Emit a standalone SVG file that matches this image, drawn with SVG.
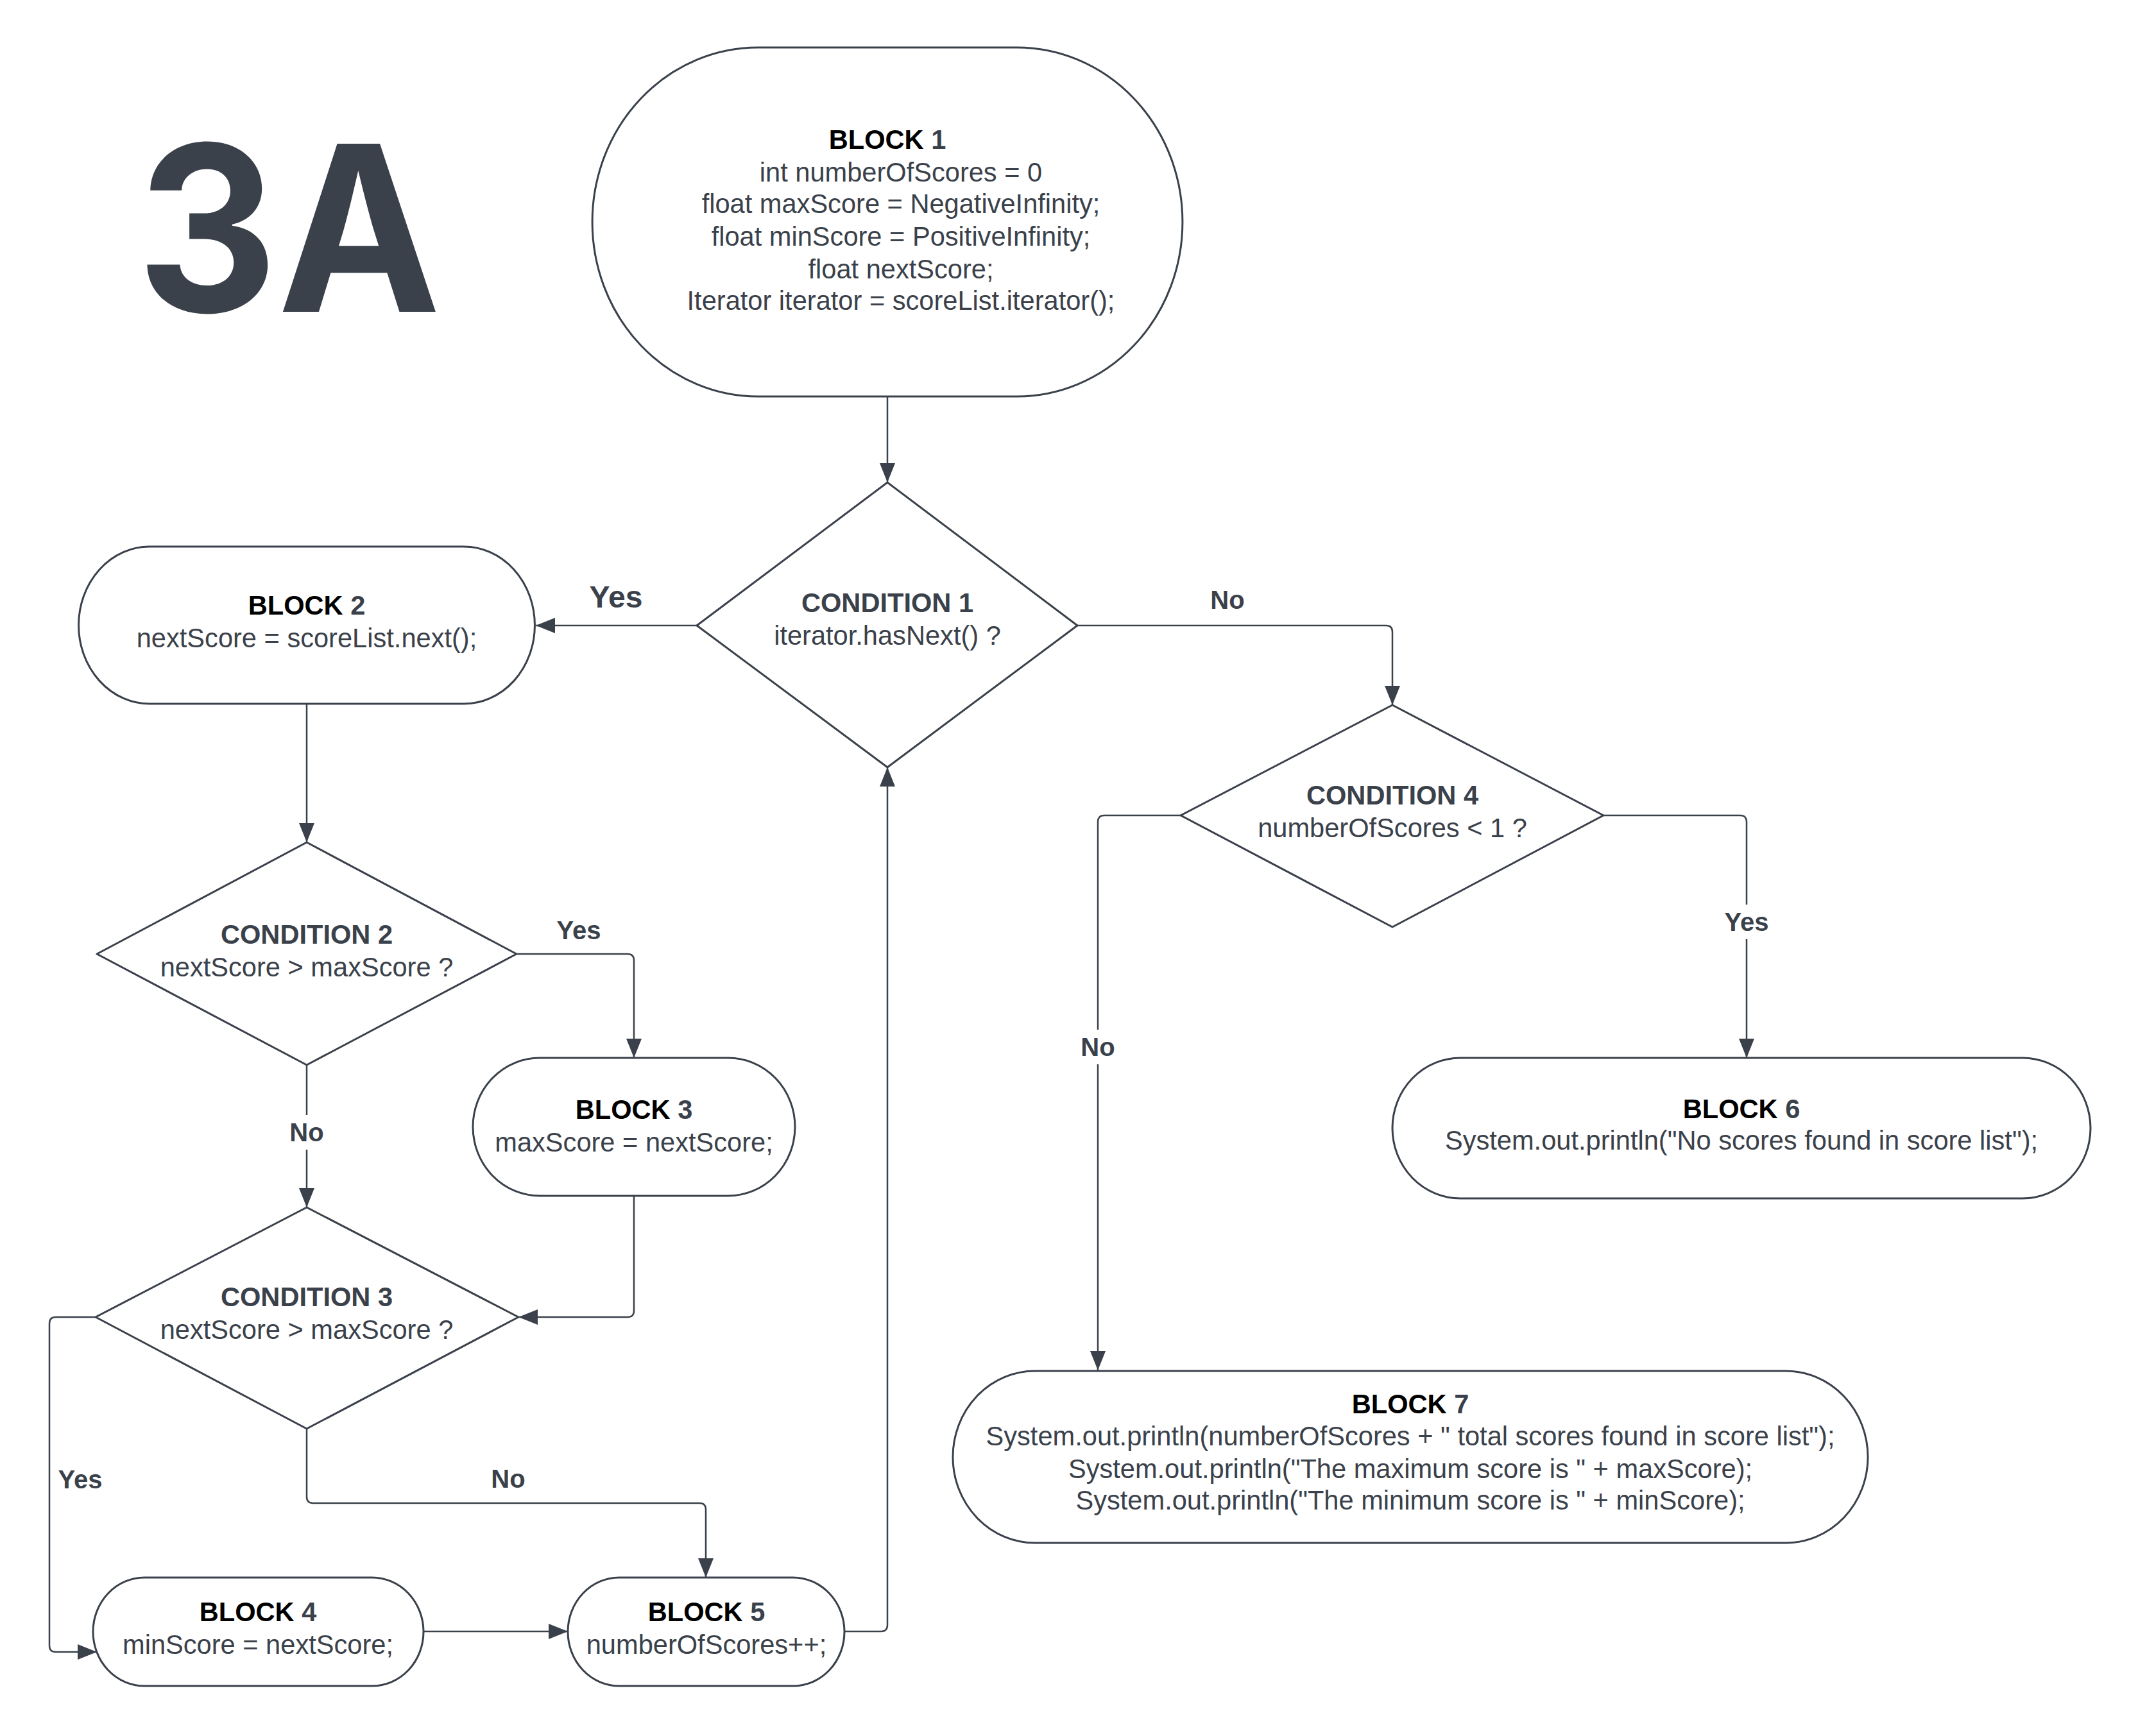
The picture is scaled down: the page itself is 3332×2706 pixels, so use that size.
<svg xmlns="http://www.w3.org/2000/svg" width="3332" height="2706" viewBox="0 0 3332 2706">
<style>
.shape{fill:#fff;stroke:#3a414a;stroke-width:3}
.conn{fill:none;stroke:#3a414a;stroke-width:2.5}
text{font-family:"Liberation Sans",Arial,sans-serif;font-size:41.6px;fill:#3a414a;text-anchor:middle}
.t{font-weight:bold;fill:#000}
.n{fill:#3a414a}
.c{font-weight:bold}
.lbl{font-weight:bold;font-size:40px}
.bg{fill:#fff}
</style>
<defs>
<marker id="arr" markerUnits="userSpaceOnUse" markerWidth="32" markerHeight="24" refX="30" refY="12" orient="auto">
<path d="M0,0 L30,12 L0,24 z" fill="#3a414a"/>
</marker>
</defs>
<rect width="3332" height="2706" fill="#fff"/>
<text x="450" y="486" textLength="474" lengthAdjust="spacingAndGlyphs" style="font-family:Inter,'Liberation Sans',sans-serif;font-weight:700;font-size:360px;fill:#3a414a">3A</text>
<g id="connectors">
<path class="conn" d="M1383,618 V752" marker-end="url(#arr)"/>
<path class="conn" d="M1086,975 H835" marker-end="url(#arr)"/>
<path class="conn" d="M1679,975 H2160 Q2170,975 2170,985 V1099" marker-end="url(#arr)"/>
<path class="conn" d="M2499,1271 H2712 Q2722,1271 2722,1281 V1649" marker-end="url(#arr)"/>
<path class="conn" d="M1840,1271 H1721 Q1711,1271 1711,1281 V2136" marker-end="url(#arr)"/>
<path class="conn" d="M478,1097 V1313" marker-end="url(#arr)"/>
<path class="conn" d="M805,1487 H978 Q988,1487 988,1497 V1649" marker-end="url(#arr)"/>
<path class="conn" d="M478,1660 V1882" marker-end="url(#arr)"/>
<path class="conn" d="M988,1864 V2043 Q988,2053 978,2053 H808" marker-end="url(#arr)"/>
<path class="conn" d="M149,2053 H87 Q77,2053 77,2063 V2565 Q77,2575 87,2575 H151" marker-end="url(#arr)"/>
<path class="conn" d="M478,2227 V2333 Q478,2343 488,2343 H1090 Q1100,2343 1100,2353 V2459" marker-end="url(#arr)"/>
<path class="conn" d="M660,2543 H885" marker-end="url(#arr)"/>
<path class="conn" d="M1316,2543 H1373 Q1383,2543 1383,2533 V1196" marker-end="url(#arr)"/>
<g id="labels">
<text class="lbl" x="960" y="947" style="font-size:48px">Yes</text>
<text class="lbl" x="1913" y="949">No</text>
<text class="lbl" x="902" y="1464">Yes</text>
<rect class="bg" x="448" y="1738" width="60" height="54"/>
<text class="lbl" x="478" y="1779">No</text>
<text class="lbl" x="125" y="2320">Yes</text>
<text class="lbl" x="792" y="2319">No</text>
<rect class="bg" x="1681" y="1605" width="60" height="54"/>
<text class="lbl" x="1711" y="1646">No</text>
<rect class="bg" x="2684" y="1410" width="76" height="54"/>
<text class="lbl" x="2722" y="1451">Yes</text>
</g>
</g>
<g id="block1">
<path class="shape" d="M1181,74 H1585 A258 272 0 0 1 1585,618 H1181 A258 272 0 0 1 1181,74 Z"/>
<text x="1383" y="232"><tspan class="t">BLOCK</tspan><tspan class="t n"> 1</tspan></text>
<text x="1404" y="283">int numberOfScores = 0</text>
<text x="1404" y="332">float maxScore = NegativeInfinity;</text>
<text x="1404" y="383">float minScore = PositiveInfinity;</text>
<text x="1404" y="434">float nextScore;</text>
<text x="1404" y="483">Iterator iterator = scoreList.iterator();</text>
</g>
<g id="condition1">
<path class="shape" d="M1383,752 L1679,975 L1383,1196 L1086,975 Z" stroke-linejoin="round"/>
<text class="c" x="1383" y="954">CONDITION 1</text>
<text x="1383" y="1005">iterator.hasNext() ?</text>
</g>
<g id="block2">
<path class="shape" d="M233,852 H723 A110 122 0 0 1 723,1097 H233 A110 122 0 0 1 233,852 Z"/>
<text x="478" y="958"><tspan class="t">BLOCK</tspan><tspan class="t n"> 2</tspan></text>
<text x="478" y="1009">nextScore = scoreList.next();</text>
</g>
<g id="condition2">
<path class="shape" d="M478,1313 L805,1487 L478,1660 L151,1487 Z" stroke-linejoin="round"/>
<text class="c" x="478" y="1471">CONDITION 2</text>
<text x="478" y="1522">nextScore &gt; maxScore ?</text>
</g>
<g id="block3">
<path class="shape" d="M841,1649 H1135 A104 107.5 0 0 1 1135,1864 H841 A104 107.5 0 0 1 841,1649 Z"/>
<text x="988" y="1744"><tspan class="t">BLOCK</tspan><tspan class="t n"> 3</tspan></text>
<text x="988" y="1795">maxScore = nextScore;</text>
</g>
<g id="condition3">
<path class="shape" d="M478,1882 L808,2053 L478,2227 L149,2053 Z" stroke-linejoin="round"/>
<text class="c" x="478" y="2036">CONDITION 3</text>
<text x="478" y="2087">nextScore &gt; maxScore ?</text>
</g>
<g id="block4">
<path class="shape" d="M225,2459 H580 A80 84.5 0 0 1 580,2628 H225 A80 84.5 0 0 1 225,2459 Z"/>
<text x="402" y="2527"><tspan class="t">BLOCK</tspan><tspan class="t n"> 4</tspan></text>
<text x="402" y="2578">minScore = nextScore;</text>
</g>
<g id="block5">
<path class="shape" d="M965,2459 H1236 A80 84.5 0 0 1 1236,2628 H965 A80 84.5 0 0 1 965,2459 Z"/>
<text x="1101" y="2527"><tspan class="t">BLOCK</tspan><tspan class="t n"> 5</tspan></text>
<text x="1101" y="2578">numberOfScores++;</text>
</g>
<g id="condition4">
<path class="shape" d="M2170,1099 L2499,1271 L2170,1445 L1840,1271 Z" stroke-linejoin="round"/>
<text class="c" x="2170" y="1254">CONDITION 4</text>
<text x="2170" y="1305">numberOfScores &lt; 1 ?</text>
</g>
<g id="block6">
<path class="shape" d="M2276,1649 H3152 A106 109.5 0 0 1 3152,1868 H2276 A106 109.5 0 0 1 2276,1649 Z"/>
<text x="2714" y="1743"><tspan class="t">BLOCK</tspan><tspan class="t n"> 6</tspan></text>
<text x="2714" y="1792">System.out.println("No scores found in score list");</text>
</g>
<g id="block7">
<path class="shape" d="M1613,2137 H2783 A128 134 0 0 1 2783,2405 H1613 A128 134 0 0 1 1613,2137 Z"/>
<text x="2198" y="2203"><tspan class="t">BLOCK</tspan><tspan class="t n"> 7</tspan></text>
<text x="2198" y="2253">System.out.println(numberOfScores + " total scores found in score list");</text>
<text x="2198" y="2304">System.out.println("The maximum score is " + maxScore);</text>
<text x="2198" y="2353">System.out.println("The minimum score is " + minScore);</text>
</g>
</svg>
